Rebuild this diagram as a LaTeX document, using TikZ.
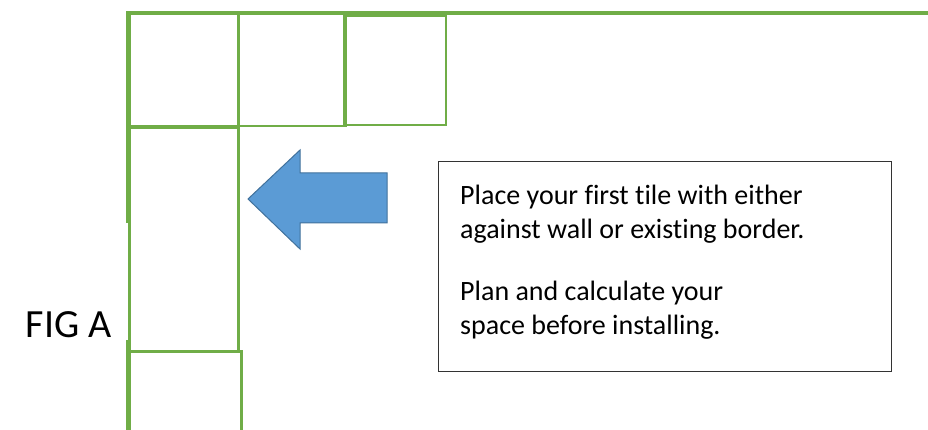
\documentclass[tikz,border=0pt]{standalone}
\usepackage{fontspec}
\setmainfont[Ligatures=NoCommon]{Carlito}
\usepackage{xcolor}
\usetikzlibrary{arrows.meta, positioning, calc}

\definecolor{tilegreen}{HTML}{70AD47}
\definecolor{arrowblue}{HTML}{5B9BD5}
\definecolor{arrowedge}{HTML}{41719C}

\begin{document}
\begin{tikzpicture}[x=1pt, y=-1pt,
		tile/.style={rectangle, draw=tilegreen, line width=2.5pt, anchor=north west, inner sep=0pt},
		wall/.style={draw=tilegreen, line width=4.5pt},
		notebox/.style={rectangle, draw=black!80, line width=1pt, anchor=north west, inner sep=0pt},
		notetext/.style={anchor=north west, align=left, inner sep=0pt, font=\fontsize{28}{34}\selectfont}
		]
		\useasboundingbox (0,0) rectangle (928,430);
		
		% top row of tiles
		\node[tile, minimum width=109pt, minimum height=112pt] (tileA) at (128,13) {};
		\node[tile, minimum width=106pt, minimum height=112pt] (tileB) at (237,13) {};
		\node[tile, minimum width=102pt, minimum height=109pt, line width=2pt] (tileC) at (343,15) {};
		
		% tiles down the left wall
		\node[tile, minimum width=109pt, minimum height=225pt] (tileD) at (128,125) {};
		\node[tile, minimum width=112pt, minimum height=90pt] (tileE) at (128,350) {};
		
		% walls
		\draw[wall] (126,13) -- (928,13);
		\draw[wall] (128,13) -- (128,223);
		\draw[wall] (128,340) -- (128,432);
		\draw[tilegreen, line width=4pt] (tileA.south west) -- (tileA.south east);
		\draw[tilegreen, line width=3.5pt] (tileB.north east) -- (tileB.south east);
		
		% arrow pointing to the wall
		\draw[fill=arrowblue, draw=arrowedge, line width=1pt, line join=miter]
			(248,199) -- (300,150) -- (300,173) -- (387,173) -- (387,223)
			-- (300,223) -- (300,249) -- cycle;
		
		% note
		\node[notebox, minimum width=453pt, minimum height=210pt] (note) at (438,161) {};
		\node[notetext] (notetxt) at (460,185) {Place your first tile with either\\against wall or existing border.\\[28pt]Plan and calculate your\\space before installing.};
		
		% figure label
		\node[anchor=base east, inner sep=0pt, font=\fontsize{40}{46}\selectfont] (figlabel) at (112,337) {FIG A};
		
	\end{tikzpicture}
\end{document}
